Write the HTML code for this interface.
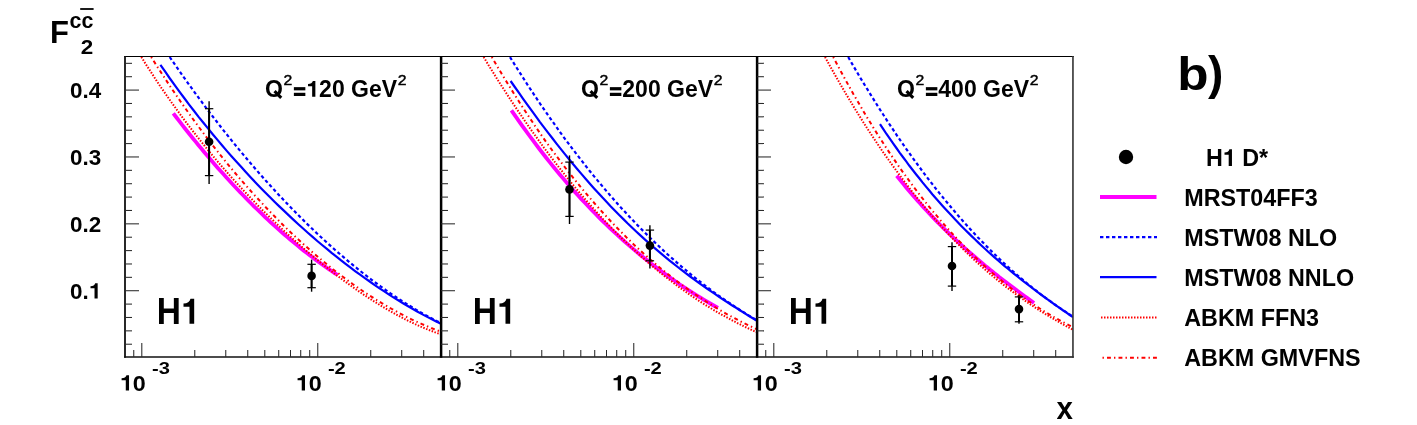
<!DOCTYPE html>
<html><head><meta charset="utf-8"><title>F2cc</title>
<style>html,body{margin:0;padding:0;background:#fff;}svg{display:block;}text{font-kerning:none;white-space:pre;}body{font-family:"Liberation Sans",sans-serif;}</style></head>
<body>
<svg width="1417" height="425" viewBox="0 0 1417 425" font-family="'Liberation Sans', sans-serif" font-weight="bold" fill="#000">
<rect width="1417" height="425" fill="#fff"/>
<defs>
<clipPath id="cp0"><rect x="125.0" y="56.5" width="316.0" height="300.5"/></clipPath>
<clipPath id="cp1"><rect x="441.0" y="56.5" width="316.0" height="300.5"/></clipPath>
<clipPath id="cp2"><rect x="757.0" y="56.5" width="316.0" height="300.5"/></clipPath>
</defs>
<g clip-path="url(#cp0)" fill="none">
<path d="M173.3 113.3 L176.1 117.0 L178.9 120.6 L181.6 124.2 L184.4 127.7 L187.2 131.2 L190.0 134.7 L192.8 138.2 L195.6 141.6 L198.3 145.0 L201.1 148.3 L203.9 151.7 L206.7 155.0 L209.5 158.2 L212.3 161.5 L215.0 164.7 L217.8 167.9 L220.6 171.0 L223.4 174.1 L226.2 177.2 L229.0 180.2 L231.7 183.3 L234.5 186.2 L237.3 189.2 L240.1 192.1 L242.9 195.0 L245.7 197.9 L248.4 200.7 L251.2 203.5 L254.0 206.3 L256.8 209.0 L259.6 211.7 L262.4 214.4 L265.1 217.1 L267.9 219.7 L270.7 222.3 L273.5 224.8 L276.3 227.3 L279.1 229.8 L281.8 232.3 L284.6 234.7 L287.4 237.1 L290.2 239.5 L293.0 241.8 L295.8 244.1 L298.5 246.4 L301.3 248.7 L304.1 250.9 L306.9 253.0 L309.7 255.2 L312.5 257.3 L315.2 259.4 L318.0 261.5 L320.8 263.5 L323.6 265.5 L326.4 267.5 L329.2 269.4 L331.9 271.3 L334.7 273.2 L337.5 275.0" stroke="#ff00ff" stroke-width="3.8"/>
<path d="M169.7 57.0 L174.3 63.7 L178.9 70.3 L183.5 76.8 L188.1 83.3 L192.7 89.7 L197.3 96.0 L201.9 102.2 L206.5 108.3 L211.1 114.4 L215.7 120.3 L220.3 126.2 L224.9 132.1 L229.5 137.8 L234.1 143.5 L238.7 149.1 L243.3 154.6 L247.9 160.1 L252.5 165.5 L257.1 170.8 L261.7 176.0 L266.3 181.2 L270.9 186.2 L275.5 191.3 L280.1 196.2 L284.7 201.1 L289.3 205.9 L293.9 210.6 L298.5 215.3 L303.1 219.9 L307.6 224.4 L312.2 228.8 L316.8 233.2 L321.4 237.5 L326.0 241.7 L330.6 245.9 L335.2 250.0 L339.8 254.0 L344.4 257.9 L349.0 261.8 L353.6 265.6 L358.2 269.3 L362.8 273.0 L367.4 276.6 L372.0 280.1 L376.6 283.5 L381.2 286.8 L385.8 290.1 L390.4 293.3 L395.0 296.4 L399.6 299.5 L404.2 302.4 L408.8 305.3 L413.4 308.1 L418.0 310.8 L422.6 313.5 L427.2 316.0 L431.8 318.5 L436.4 320.9 L441.0 323.2" stroke="#0000ff" stroke-width="2.2" stroke-dasharray="3.4 2.6"/>
<path d="M160.4 64.9 L165.2 71.7 L169.9 78.5 L174.7 85.1 L179.4 91.6 L184.2 98.0 L188.9 104.3 L193.7 110.5 L198.4 116.6 L203.2 122.5 L208.0 128.4 L212.7 134.2 L217.5 139.9 L222.2 145.5 L227.0 151.1 L231.7 156.5 L236.5 161.8 L241.3 167.1 L246.0 172.3 L250.8 177.4 L255.5 182.4 L260.3 187.4 L265.0 192.2 L269.8 197.0 L274.5 201.7 L279.3 206.4 L284.1 210.9 L288.8 215.4 L293.6 219.9 L298.3 224.2 L303.1 228.5 L307.8 232.7 L312.6 236.9 L317.3 241.0 L322.1 245.0 L326.9 248.9 L331.6 252.8 L336.4 256.6 L341.1 260.4 L345.9 264.1 L350.6 267.7 L355.4 271.3 L360.1 274.7 L364.9 278.2 L369.7 281.5 L374.4 284.8 L379.2 288.1 L383.9 291.2 L388.7 294.3 L393.4 297.4 L398.2 300.3 L403.0 303.2 L407.7 306.0 L412.5 308.8 L417.2 311.5 L422.0 314.1 L426.7 316.6 L431.5 319.1 L436.2 321.5 L441.0 323.8" stroke="#0000ff" stroke-width="2.2"/>
<path d="M141.3 57.0 L146.4 65.1 L151.5 72.9 L156.5 80.6 L161.6 88.2 L166.7 95.5 L171.8 102.8 L176.9 109.8 L181.9 116.7 L187.0 123.5 L192.1 130.1 L197.2 136.6 L202.3 143.0 L207.3 149.2 L212.4 155.4 L217.5 161.4 L222.6 167.3 L227.7 173.1 L232.7 178.8 L237.8 184.3 L242.9 189.8 L248.0 195.2 L253.1 200.5 L258.1 205.7 L263.2 210.8 L268.3 215.8 L273.4 220.7 L278.5 225.6 L283.5 230.3 L288.6 235.0 L293.7 239.6 L298.8 244.1 L303.8 248.6 L308.9 252.9 L314.0 257.2 L319.1 261.4 L324.2 265.5 L329.2 269.5 L334.3 273.5 L339.4 277.3 L344.5 281.1 L349.6 284.8 L354.6 288.4 L359.7 291.9 L364.8 295.4 L369.9 298.7 L375.0 302.0 L380.0 305.1 L385.1 308.2 L390.2 311.1 L395.3 314.0 L400.4 316.7 L405.4 319.4 L410.5 321.9 L415.6 324.3 L420.7 326.6 L425.8 328.7 L430.8 330.7 L435.9 332.6 L441.0 334.4" stroke="#ff0000" stroke-width="2" stroke-dasharray="1.5 1.5"/>
<path d="M151.2 57.0 L156.1 64.8 L161.0 72.4 L165.9 79.9 L170.8 87.3 L175.8 94.6 L180.7 101.7 L185.6 108.7 L190.5 115.6 L195.4 122.4 L200.3 129.0 L205.2 135.6 L210.1 142.0 L215.1 148.3 L220.0 154.5 L224.9 160.6 L229.8 166.6 L234.7 172.5 L239.6 178.3 L244.5 183.9 L249.4 189.5 L254.3 195.0 L259.3 200.3 L264.2 205.6 L269.1 210.8 L274.0 215.8 L278.9 220.8 L283.8 225.7 L288.7 230.5 L293.6 235.1 L298.6 239.7 L303.5 244.2 L308.4 248.6 L313.3 252.9 L318.2 257.1 L323.1 261.2 L328.0 265.2 L332.9 269.2 L337.9 273.0 L342.8 276.7 L347.7 280.4 L352.6 284.0 L357.5 287.4 L362.4 290.8 L367.3 294.1 L372.2 297.2 L377.1 300.3 L382.1 303.3 L387.0 306.2 L391.9 309.0 L396.8 311.7 L401.7 314.3 L406.6 316.9 L411.5 319.3 L416.4 321.6 L421.4 323.8 L426.3 325.9 L431.2 328.0 L436.1 329.9 L441.0 331.7" stroke="#ff0000" stroke-width="2" stroke-dasharray="1.4 3.1 3.9 3.1"/>
</g>
<g clip-path="url(#cp1)" fill="none">
<path d="M511.4 110.3 L514.9 115.4 L518.4 120.4 L521.9 125.3 L525.4 130.2 L528.9 135.0 L532.4 139.7 L535.9 144.4 L539.4 149.0 L542.9 153.5 L546.4 158.0 L549.9 162.4 L553.4 166.7 L556.9 171.0 L560.4 175.2 L563.9 179.3 L567.4 183.4 L570.9 187.4 L574.4 191.4 L577.9 195.2 L581.4 199.1 L584.9 202.8 L588.4 206.5 L591.9 210.2 L595.4 213.8 L598.9 217.3 L602.4 220.8 L605.9 224.2 L609.4 227.6 L612.9 230.9 L616.5 234.1 L620.0 237.3 L623.5 240.5 L627.0 243.6 L630.5 246.6 L634.0 249.6 L637.5 252.6 L641.0 255.5 L644.5 258.3 L648.0 261.1 L651.5 263.9 L655.0 266.6 L658.5 269.2 L662.0 271.8 L665.5 274.4 L669.0 276.9 L672.5 279.4 L676.0 281.8 L679.5 284.2 L683.0 286.6 L686.5 288.9 L690.0 291.2 L693.5 293.4 L697.0 295.6 L700.5 297.7 L704.0 299.8 L707.5 301.9 L711.0 304.0 L714.5 306.0 L718.0 307.9" stroke="#ff00ff" stroke-width="3.8"/>
<path d="M510.0 57.1 L514.2 63.8 L518.4 70.5 L522.6 77.0 L526.7 83.5 L530.9 89.9 L535.1 96.2 L539.3 102.5 L543.5 108.6 L547.7 114.7 L551.9 120.6 L556.1 126.5 L560.2 132.3 L564.4 138.1 L568.6 143.7 L572.8 149.3 L577.0 154.7 L581.2 160.1 L585.4 165.5 L589.5 170.7 L593.7 175.9 L597.9 180.9 L602.1 185.9 L606.3 190.9 L610.5 195.7 L614.7 200.5 L618.8 205.2 L623.0 209.8 L627.2 214.3 L631.4 218.8 L635.6 223.2 L639.8 227.5 L644.0 231.7 L648.2 235.9 L652.3 240.0 L656.5 244.0 L660.7 248.0 L664.9 251.9 L669.1 255.7 L673.3 259.4 L677.5 263.1 L681.6 266.7 L685.8 270.2 L690.0 273.7 L694.2 277.1 L698.4 280.4 L702.6 283.7 L706.8 286.9 L710.9 290.0 L715.1 293.1 L719.3 296.1 L723.5 299.0 L727.7 301.9 L731.9 304.7 L736.1 307.5 L740.3 310.2 L744.4 312.8 L748.6 315.4 L752.8 317.9 L757.0 320.3" stroke="#0000ff" stroke-width="2.2" stroke-dasharray="3.4 2.6"/>
<path d="M510.6 81.0 L514.8 87.0 L519.0 92.9 L523.1 98.8 L527.3 104.7 L531.5 110.4 L535.7 116.1 L539.8 121.8 L544.0 127.3 L548.2 132.8 L552.4 138.2 L556.5 143.6 L560.7 148.9 L564.9 154.1 L569.1 159.2 L573.2 164.3 L577.4 169.2 L581.6 174.1 L585.8 179.0 L589.9 183.7 L594.1 188.4 L598.3 193.0 L602.5 197.6 L606.7 202.0 L610.8 206.4 L615.0 210.7 L619.2 215.0 L623.4 219.1 L627.5 223.2 L631.7 227.2 L635.9 231.2 L640.1 235.1 L644.2 238.9 L648.4 242.6 L652.6 246.3 L656.8 249.9 L660.9 253.4 L665.1 256.9 L669.3 260.3 L673.5 263.7 L677.7 267.0 L681.8 270.2 L686.0 273.4 L690.2 276.5 L694.4 279.6 L698.5 282.6 L702.7 285.6 L706.9 288.5 L711.1 291.4 L715.2 294.2 L719.4 297.0 L723.6 299.8 L727.8 302.5 L731.9 305.2 L736.1 307.8 L740.3 310.5 L744.5 313.1 L748.6 315.7 L752.8 318.2 L757.0 320.8" stroke="#0000ff" stroke-width="2.2"/>
<path d="M483.6 57.0 L488.2 64.6 L492.9 72.1 L497.5 79.5 L502.1 86.8 L506.8 93.9 L511.4 101.0 L516.0 107.9 L520.7 114.8 L525.3 121.5 L529.9 128.2 L534.6 134.7 L539.2 141.1 L543.8 147.5 L548.5 153.7 L553.1 159.8 L557.7 165.8 L562.4 171.7 L567.0 177.5 L571.6 183.2 L576.3 188.8 L580.9 194.3 L585.5 199.7 L590.2 204.9 L594.8 210.1 L599.4 215.2 L604.1 220.2 L608.7 225.0 L613.3 229.8 L618.0 234.5 L622.6 239.1 L627.3 243.5 L631.9 247.9 L636.5 252.2 L641.2 256.4 L645.8 260.5 L650.4 264.5 L655.1 268.4 L659.7 272.2 L664.3 275.9 L669.0 279.5 L673.6 283.0 L678.2 286.5 L682.9 289.8 L687.5 293.1 L692.1 296.3 L696.8 299.4 L701.4 302.4 L706.0 305.3 L710.7 308.2 L715.3 310.9 L719.9 313.6 L724.6 316.2 L729.2 318.7 L733.8 321.2 L738.5 323.6 L743.1 325.9 L747.7 328.1 L752.4 330.3 L757.0 332.4" stroke="#ff0000" stroke-width="2" stroke-dasharray="1.5 1.5"/>
<path d="M491.8 57.0 L496.3 64.7 L500.8 72.3 L505.3 79.7 L509.8 87.0 L514.3 94.2 L518.8 101.3 L523.3 108.3 L527.8 115.1 L532.3 121.8 L536.7 128.4 L541.2 134.9 L545.7 141.3 L550.2 147.6 L554.7 153.7 L559.2 159.7 L563.7 165.7 L568.2 171.5 L572.7 177.2 L577.2 182.8 L581.7 188.3 L586.2 193.7 L590.7 198.9 L595.2 204.1 L599.7 209.2 L604.2 214.1 L608.7 219.0 L613.2 223.8 L617.7 228.5 L622.2 233.0 L626.6 237.5 L631.1 241.9 L635.6 246.2 L640.1 250.3 L644.6 254.4 L649.1 258.4 L653.6 262.4 L658.1 266.2 L662.6 269.9 L667.1 273.5 L671.6 277.1 L676.1 280.6 L680.6 283.9 L685.1 287.2 L689.6 290.5 L694.1 293.6 L698.6 296.6 L703.1 299.6 L707.6 302.5 L712.1 305.3 L716.5 308.0 L721.0 310.7 L725.5 313.3 L730.0 315.8 L734.5 318.2 L739.0 320.6 L743.5 322.9 L748.0 325.1 L752.5 327.2 L757.0 329.3" stroke="#ff0000" stroke-width="2" stroke-dasharray="1.4 3.1 3.9 3.1"/>
</g>
<g clip-path="url(#cp2)" fill="none">
<path d="M896.7 175.7 L899.0 178.6 L901.4 181.5 L903.7 184.3 L906.0 187.2 L908.3 189.9 L910.7 192.7 L913.0 195.4 L915.3 198.1 L917.6 200.7 L920.0 203.3 L922.3 205.9 L924.6 208.5 L927.0 211.0 L929.3 213.5 L931.6 216.0 L933.9 218.4 L936.3 220.8 L938.6 223.2 L940.9 225.5 L943.2 227.8 L945.6 230.1 L947.9 232.4 L950.2 234.7 L952.6 236.9 L954.9 239.1 L957.2 241.2 L959.5 243.4 L961.9 245.5 L964.2 247.6 L966.5 249.7 L968.8 251.8 L971.2 253.8 L973.5 255.8 L975.8 257.8 L978.1 259.8 L980.5 261.8 L982.8 263.7 L985.1 265.7 L987.5 267.6 L989.8 269.5 L992.1 271.3 L994.4 273.2 L996.8 275.0 L999.1 276.9 L1001.4 278.7 L1003.7 280.5 L1006.1 282.3 L1008.4 284.1 L1010.7 285.8 L1013.1 287.6 L1015.4 289.3 L1017.7 291.1 L1020.0 292.8 L1022.4 294.5 L1024.7 296.2 L1027.0 297.9 L1029.3 299.6 L1031.7 301.3 L1034.0 303.0" stroke="#ff00ff" stroke-width="3.8"/>
<path d="M848.2 57.0 L852.0 63.6 L855.8 70.1 L859.6 76.6 L863.4 82.9 L867.3 89.2 L871.1 95.4 L874.9 101.5 L878.7 107.6 L882.5 113.5 L886.3 119.4 L890.1 125.2 L893.9 130.9 L897.7 136.6 L901.5 142.1 L905.4 147.6 L909.2 153.0 L913.0 158.3 L916.8 163.5 L920.6 168.7 L924.4 173.8 L928.2 178.8 L932.0 183.7 L935.8 188.6 L939.6 193.4 L943.5 198.1 L947.3 202.7 L951.1 207.3 L954.9 211.8 L958.7 216.2 L962.5 220.5 L966.3 224.8 L970.1 229.0 L973.9 233.1 L977.7 237.2 L981.6 241.1 L985.4 245.0 L989.2 248.9 L993.0 252.7 L996.8 256.4 L1000.6 260.0 L1004.4 263.6 L1008.2 267.1 L1012.0 270.5 L1015.8 273.9 L1019.7 277.2 L1023.5 280.4 L1027.3 283.6 L1031.1 286.7 L1034.9 289.7 L1038.7 292.7 L1042.5 295.6 L1046.3 298.4 L1050.1 301.2 L1053.9 303.9 L1057.8 306.6 L1061.6 309.2 L1065.4 311.7 L1069.2 314.2 L1073.0 316.6" stroke="#0000ff" stroke-width="2.2" stroke-dasharray="3.4 2.6"/>
<path d="M880.0 124.2 L883.3 129.1 L886.5 134.0 L889.8 138.7 L893.1 143.4 L896.4 148.0 L899.6 152.6 L902.9 157.0 L906.2 161.4 L909.4 165.8 L912.7 170.0 L916.0 174.2 L919.3 178.3 L922.5 182.4 L925.8 186.4 L929.1 190.3 L932.3 194.2 L935.6 198.0 L938.9 201.7 L942.2 205.4 L945.4 209.0 L948.7 212.6 L952.0 216.1 L955.2 219.6 L958.5 223.0 L961.8 226.4 L965.1 229.7 L968.3 232.9 L971.6 236.1 L974.9 239.3 L978.1 242.4 L981.4 245.5 L984.7 248.5 L987.9 251.5 L991.2 254.4 L994.5 257.3 L997.8 260.2 L1001.0 263.0 L1004.3 265.8 L1007.6 268.5 L1010.8 271.2 L1014.1 273.9 L1017.4 276.5 L1020.7 279.1 L1023.9 281.7 L1027.2 284.2 L1030.5 286.7 L1033.7 289.2 L1037.0 291.7 L1040.3 294.1 L1043.6 296.5 L1046.8 298.9 L1050.1 301.2 L1053.4 303.6 L1056.6 305.9 L1059.9 308.2 L1063.2 310.5 L1066.5 312.7 L1069.7 315.0 L1073.0 317.2" stroke="#0000ff" stroke-width="2.2"/>
<path d="M825.0 57.0 L829.2 64.6 L833.4 72.1 L837.6 79.5 L841.8 86.8 L846.0 93.9 L850.2 100.9 L854.4 107.9 L858.6 114.7 L862.8 121.4 L867.0 128.0 L871.2 134.4 L875.4 140.8 L879.6 147.0 L883.8 153.2 L888.1 159.2 L892.3 165.1 L896.5 170.9 L900.7 176.6 L904.9 182.2 L909.1 187.7 L913.3 193.1 L917.5 198.3 L921.7 203.5 L925.9 208.6 L930.1 213.5 L934.3 218.4 L938.5 223.2 L942.7 227.8 L946.9 232.4 L951.1 236.9 L955.3 241.2 L959.5 245.5 L963.7 249.7 L967.9 253.8 L972.1 257.8 L976.3 261.7 L980.5 265.5 L984.7 269.2 L988.9 272.9 L993.1 276.4 L997.3 279.9 L1001.5 283.3 L1005.7 286.6 L1009.9 289.8 L1014.2 293.0 L1018.4 296.0 L1022.6 299.0 L1026.8 302.0 L1031.0 304.8 L1035.2 307.6 L1039.4 310.3 L1043.6 312.9 L1047.8 315.5 L1052.0 318.0 L1056.2 320.5 L1060.4 322.9 L1064.6 325.2 L1068.8 327.5 L1073.0 329.7" stroke="#ff0000" stroke-width="2" stroke-dasharray="1.5 1.5"/>
<path d="M833.2 57.0 L837.3 64.7 L841.3 72.3 L845.4 79.7 L849.5 87.1 L853.5 94.3 L857.6 101.3 L861.7 108.3 L865.7 115.1 L869.8 121.8 L873.8 128.4 L877.9 134.9 L882.0 141.2 L886.0 147.5 L890.1 153.6 L894.2 159.6 L898.2 165.5 L902.3 171.3 L906.4 176.9 L910.4 182.5 L914.5 188.0 L918.6 193.3 L922.6 198.5 L926.7 203.7 L930.7 208.7 L934.8 213.6 L938.9 218.4 L942.9 223.2 L947.0 227.8 L951.1 232.3 L955.1 236.7 L959.2 241.1 L963.3 245.3 L967.3 249.5 L971.4 253.5 L975.5 257.5 L979.5 261.3 L983.6 265.1 L987.6 268.8 L991.7 272.4 L995.8 275.9 L999.8 279.3 L1003.9 282.7 L1008.0 285.9 L1012.0 289.1 L1016.1 292.2 L1020.2 295.2 L1024.2 298.1 L1028.3 301.0 L1032.4 303.7 L1036.4 306.4 L1040.5 309.0 L1044.5 311.6 L1048.6 314.0 L1052.7 316.4 L1056.7 318.7 L1060.8 320.9 L1064.9 323.1 L1068.9 325.2 L1073.0 327.2" stroke="#ff0000" stroke-width="2" stroke-dasharray="1.4 3.1 3.9 3.1"/>
</g>
<g stroke="#000" fill="#000">
<line x1="209.1" y1="101.2" x2="209.1" y2="184.0" stroke-width="1.4"/>
<line x1="209.1" y1="108.7" x2="209.1" y2="175.6" stroke-width="2"/>
<line x1="204.9" y1="108.7" x2="213.29999999999998" y2="108.7" stroke-width="1.2"/>
<line x1="204.9" y1="175.6" x2="213.29999999999998" y2="175.6" stroke-width="1.2"/>
<circle cx="209.1" cy="141.7" r="4.3" stroke="none"/>
<line x1="311.6" y1="259.6" x2="311.6" y2="291.7" stroke-width="1.4"/>
<line x1="311.6" y1="264.3" x2="311.6" y2="287.7" stroke-width="2"/>
<line x1="307.40000000000003" y1="264.3" x2="315.8" y2="264.3" stroke-width="1.2"/>
<line x1="307.40000000000003" y1="287.7" x2="315.8" y2="287.7" stroke-width="1.2"/>
<circle cx="311.6" cy="275.9" r="4.3" stroke="none"/>
<line x1="569.5" y1="155.4" x2="569.5" y2="224.0" stroke-width="1.4"/>
<line x1="569.5" y1="162.1" x2="569.5" y2="216.4" stroke-width="2"/>
<line x1="565.3" y1="162.1" x2="573.7" y2="162.1" stroke-width="1.2"/>
<line x1="565.3" y1="216.4" x2="573.7" y2="216.4" stroke-width="1.2"/>
<circle cx="569.5" cy="189.4" r="4.3" stroke="none"/>
<line x1="649.9" y1="225.3" x2="649.9" y2="268.4" stroke-width="1.4"/>
<line x1="649.9" y1="230.1" x2="649.9" y2="260.8" stroke-width="2"/>
<line x1="645.6999999999999" y1="230.1" x2="654.1" y2="230.1" stroke-width="1.2"/>
<line x1="645.6999999999999" y1="260.8" x2="654.1" y2="260.8" stroke-width="1.2"/>
<circle cx="649.9" cy="245.6" r="4.3" stroke="none"/>
<line x1="952.0" y1="242.2" x2="952.0" y2="291.0" stroke-width="1.4"/>
<line x1="952.0" y1="246.6" x2="952.0" y2="286.1" stroke-width="2"/>
<line x1="947.8" y1="246.6" x2="956.2" y2="246.6" stroke-width="1.2"/>
<line x1="947.8" y1="286.1" x2="956.2" y2="286.1" stroke-width="1.2"/>
<circle cx="952.0" cy="266.0" r="4.3" stroke="none"/>
<line x1="1019.0" y1="295.0" x2="1019.0" y2="323.8" stroke-width="1.4"/>
<line x1="1019.0" y1="296.9" x2="1019.0" y2="321.8" stroke-width="2"/>
<line x1="1014.8" y1="296.9" x2="1023.2" y2="296.9" stroke-width="1.2"/>
<line x1="1014.8" y1="321.8" x2="1023.2" y2="321.8" stroke-width="1.2"/>
<circle cx="1019.0" cy="309.1" r="4.3" stroke="none"/>
</g>
<g stroke="#111" fill="none">
<line x1="124.1" y1="56.5" x2="1073.8" y2="56.5" stroke-width="1.2" stroke="#000"/>
<line x1="124.1" y1="357.05" x2="1073.8" y2="357.05" stroke-width="1.5"/>
<line x1="125" y1="56" x2="125" y2="357.8" stroke-width="1.8"/>
<line x1="441.1" y1="56" x2="441.1" y2="357.8" stroke-width="2.5" stroke="#000"/>
<line x1="757.1" y1="56" x2="757.1" y2="357.8" stroke-width="2.5" stroke="#000"/>
<line x1="1072.95" y1="56" x2="1072.95" y2="357.8" stroke-width="1.6" stroke="#333"/>
<line x1="125.0" y1="344.22" x2="132.0" y2="344.22" stroke-width="1.05" stroke="#2a2a2a"/>
<line x1="125.0" y1="330.85" x2="132.0" y2="330.85" stroke-width="1.05" stroke="#2a2a2a"/>
<line x1="125.0" y1="317.47" x2="132.0" y2="317.47" stroke-width="1.05" stroke="#2a2a2a"/>
<line x1="125.0" y1="304.10" x2="132.0" y2="304.10" stroke-width="1.05" stroke="#2a2a2a"/>
<line x1="125.0" y1="290.72" x2="139.0" y2="290.72" stroke-width="1.05" stroke="#2a2a2a"/>
<line x1="125.0" y1="277.34" x2="132.0" y2="277.34" stroke-width="1.05" stroke="#2a2a2a"/>
<line x1="125.0" y1="263.97" x2="132.0" y2="263.97" stroke-width="1.05" stroke="#2a2a2a"/>
<line x1="125.0" y1="250.59" x2="132.0" y2="250.59" stroke-width="1.05" stroke="#2a2a2a"/>
<line x1="125.0" y1="237.22" x2="132.0" y2="237.22" stroke-width="1.05" stroke="#2a2a2a"/>
<line x1="125.0" y1="223.84" x2="139.0" y2="223.84" stroke-width="1.05" stroke="#2a2a2a"/>
<line x1="125.0" y1="210.46" x2="132.0" y2="210.46" stroke-width="1.05" stroke="#2a2a2a"/>
<line x1="125.0" y1="197.09" x2="132.0" y2="197.09" stroke-width="1.05" stroke="#2a2a2a"/>
<line x1="125.0" y1="183.71" x2="132.0" y2="183.71" stroke-width="1.05" stroke="#2a2a2a"/>
<line x1="125.0" y1="170.34" x2="132.0" y2="170.34" stroke-width="1.05" stroke="#2a2a2a"/>
<line x1="125.0" y1="156.96" x2="139.0" y2="156.96" stroke-width="1.05" stroke="#2a2a2a"/>
<line x1="125.0" y1="143.58" x2="132.0" y2="143.58" stroke-width="1.05" stroke="#2a2a2a"/>
<line x1="125.0" y1="130.21" x2="132.0" y2="130.21" stroke-width="1.05" stroke="#2a2a2a"/>
<line x1="125.0" y1="116.83" x2="132.0" y2="116.83" stroke-width="1.05" stroke="#2a2a2a"/>
<line x1="125.0" y1="103.46" x2="132.0" y2="103.46" stroke-width="1.05" stroke="#2a2a2a"/>
<line x1="125.0" y1="90.08" x2="139.0" y2="90.08" stroke-width="1.05" stroke="#2a2a2a"/>
<line x1="125.0" y1="76.70" x2="132.0" y2="76.70" stroke-width="1.05" stroke="#2a2a2a"/>
<line x1="125.0" y1="63.33" x2="132.0" y2="63.33" stroke-width="1.05" stroke="#2a2a2a"/>
<line x1="133.75" y1="357" x2="133.75" y2="350" stroke-width="1.05" stroke="#2a2a2a"/>
<line x1="141.80" y1="357" x2="141.80" y2="343" stroke-width="1.05" stroke="#2a2a2a"/>
<line x1="194.77" y1="357" x2="194.77" y2="350" stroke-width="1.05" stroke="#2a2a2a"/>
<line x1="225.76" y1="357" x2="225.76" y2="350" stroke-width="1.05" stroke="#2a2a2a"/>
<line x1="247.74" y1="357" x2="247.74" y2="350" stroke-width="1.05" stroke="#2a2a2a"/>
<line x1="264.79" y1="357" x2="264.79" y2="350" stroke-width="1.05" stroke="#2a2a2a"/>
<line x1="278.72" y1="357" x2="278.72" y2="350" stroke-width="1.05" stroke="#2a2a2a"/>
<line x1="290.50" y1="357" x2="290.50" y2="350" stroke-width="1.05" stroke="#2a2a2a"/>
<line x1="300.71" y1="357" x2="300.71" y2="350" stroke-width="1.05" stroke="#2a2a2a"/>
<line x1="309.71" y1="357" x2="309.71" y2="350" stroke-width="1.05" stroke="#2a2a2a"/>
<line x1="317.76" y1="357" x2="317.76" y2="343" stroke-width="1.05" stroke="#2a2a2a"/>
<line x1="370.73" y1="357" x2="370.73" y2="350" stroke-width="1.05" stroke="#2a2a2a"/>
<line x1="401.71" y1="357" x2="401.71" y2="350" stroke-width="1.05" stroke="#2a2a2a"/>
<line x1="423.70" y1="357" x2="423.70" y2="350" stroke-width="1.05" stroke="#2a2a2a"/>
<line x1="441.0" y1="344.22" x2="448.0" y2="344.22" stroke-width="1.05" stroke="#2a2a2a"/>
<line x1="441.0" y1="330.85" x2="448.0" y2="330.85" stroke-width="1.05" stroke="#2a2a2a"/>
<line x1="441.0" y1="317.47" x2="448.0" y2="317.47" stroke-width="1.05" stroke="#2a2a2a"/>
<line x1="441.0" y1="304.10" x2="448.0" y2="304.10" stroke-width="1.05" stroke="#2a2a2a"/>
<line x1="441.0" y1="290.72" x2="455.0" y2="290.72" stroke-width="1.05" stroke="#2a2a2a"/>
<line x1="441.0" y1="277.34" x2="448.0" y2="277.34" stroke-width="1.05" stroke="#2a2a2a"/>
<line x1="441.0" y1="263.97" x2="448.0" y2="263.97" stroke-width="1.05" stroke="#2a2a2a"/>
<line x1="441.0" y1="250.59" x2="448.0" y2="250.59" stroke-width="1.05" stroke="#2a2a2a"/>
<line x1="441.0" y1="237.22" x2="448.0" y2="237.22" stroke-width="1.05" stroke="#2a2a2a"/>
<line x1="441.0" y1="223.84" x2="455.0" y2="223.84" stroke-width="1.05" stroke="#2a2a2a"/>
<line x1="441.0" y1="210.46" x2="448.0" y2="210.46" stroke-width="1.05" stroke="#2a2a2a"/>
<line x1="441.0" y1="197.09" x2="448.0" y2="197.09" stroke-width="1.05" stroke="#2a2a2a"/>
<line x1="441.0" y1="183.71" x2="448.0" y2="183.71" stroke-width="1.05" stroke="#2a2a2a"/>
<line x1="441.0" y1="170.34" x2="448.0" y2="170.34" stroke-width="1.05" stroke="#2a2a2a"/>
<line x1="441.0" y1="156.96" x2="455.0" y2="156.96" stroke-width="1.05" stroke="#2a2a2a"/>
<line x1="441.0" y1="143.58" x2="448.0" y2="143.58" stroke-width="1.05" stroke="#2a2a2a"/>
<line x1="441.0" y1="130.21" x2="448.0" y2="130.21" stroke-width="1.05" stroke="#2a2a2a"/>
<line x1="441.0" y1="116.83" x2="448.0" y2="116.83" stroke-width="1.05" stroke="#2a2a2a"/>
<line x1="441.0" y1="103.46" x2="448.0" y2="103.46" stroke-width="1.05" stroke="#2a2a2a"/>
<line x1="441.0" y1="90.08" x2="455.0" y2="90.08" stroke-width="1.05" stroke="#2a2a2a"/>
<line x1="441.0" y1="76.70" x2="448.0" y2="76.70" stroke-width="1.05" stroke="#2a2a2a"/>
<line x1="441.0" y1="63.33" x2="448.0" y2="63.33" stroke-width="1.05" stroke="#2a2a2a"/>
<line x1="449.75" y1="357" x2="449.75" y2="350" stroke-width="1.05" stroke="#2a2a2a"/>
<line x1="457.80" y1="357" x2="457.80" y2="343" stroke-width="1.05" stroke="#2a2a2a"/>
<line x1="510.77" y1="357" x2="510.77" y2="350" stroke-width="1.05" stroke="#2a2a2a"/>
<line x1="541.76" y1="357" x2="541.76" y2="350" stroke-width="1.05" stroke="#2a2a2a"/>
<line x1="563.74" y1="357" x2="563.74" y2="350" stroke-width="1.05" stroke="#2a2a2a"/>
<line x1="580.79" y1="357" x2="580.79" y2="350" stroke-width="1.05" stroke="#2a2a2a"/>
<line x1="594.72" y1="357" x2="594.72" y2="350" stroke-width="1.05" stroke="#2a2a2a"/>
<line x1="606.50" y1="357" x2="606.50" y2="350" stroke-width="1.05" stroke="#2a2a2a"/>
<line x1="616.71" y1="357" x2="616.71" y2="350" stroke-width="1.05" stroke="#2a2a2a"/>
<line x1="625.71" y1="357" x2="625.71" y2="350" stroke-width="1.05" stroke="#2a2a2a"/>
<line x1="633.76" y1="357" x2="633.76" y2="343" stroke-width="1.05" stroke="#2a2a2a"/>
<line x1="686.73" y1="357" x2="686.73" y2="350" stroke-width="1.05" stroke="#2a2a2a"/>
<line x1="717.71" y1="357" x2="717.71" y2="350" stroke-width="1.05" stroke="#2a2a2a"/>
<line x1="739.70" y1="357" x2="739.70" y2="350" stroke-width="1.05" stroke="#2a2a2a"/>
<line x1="757.0" y1="344.22" x2="764.0" y2="344.22" stroke-width="1.05" stroke="#2a2a2a"/>
<line x1="757.0" y1="330.85" x2="764.0" y2="330.85" stroke-width="1.05" stroke="#2a2a2a"/>
<line x1="757.0" y1="317.47" x2="764.0" y2="317.47" stroke-width="1.05" stroke="#2a2a2a"/>
<line x1="757.0" y1="304.10" x2="764.0" y2="304.10" stroke-width="1.05" stroke="#2a2a2a"/>
<line x1="757.0" y1="290.72" x2="771.0" y2="290.72" stroke-width="1.05" stroke="#2a2a2a"/>
<line x1="757.0" y1="277.34" x2="764.0" y2="277.34" stroke-width="1.05" stroke="#2a2a2a"/>
<line x1="757.0" y1="263.97" x2="764.0" y2="263.97" stroke-width="1.05" stroke="#2a2a2a"/>
<line x1="757.0" y1="250.59" x2="764.0" y2="250.59" stroke-width="1.05" stroke="#2a2a2a"/>
<line x1="757.0" y1="237.22" x2="764.0" y2="237.22" stroke-width="1.05" stroke="#2a2a2a"/>
<line x1="757.0" y1="223.84" x2="771.0" y2="223.84" stroke-width="1.05" stroke="#2a2a2a"/>
<line x1="757.0" y1="210.46" x2="764.0" y2="210.46" stroke-width="1.05" stroke="#2a2a2a"/>
<line x1="757.0" y1="197.09" x2="764.0" y2="197.09" stroke-width="1.05" stroke="#2a2a2a"/>
<line x1="757.0" y1="183.71" x2="764.0" y2="183.71" stroke-width="1.05" stroke="#2a2a2a"/>
<line x1="757.0" y1="170.34" x2="764.0" y2="170.34" stroke-width="1.05" stroke="#2a2a2a"/>
<line x1="757.0" y1="156.96" x2="771.0" y2="156.96" stroke-width="1.05" stroke="#2a2a2a"/>
<line x1="757.0" y1="143.58" x2="764.0" y2="143.58" stroke-width="1.05" stroke="#2a2a2a"/>
<line x1="757.0" y1="130.21" x2="764.0" y2="130.21" stroke-width="1.05" stroke="#2a2a2a"/>
<line x1="757.0" y1="116.83" x2="764.0" y2="116.83" stroke-width="1.05" stroke="#2a2a2a"/>
<line x1="757.0" y1="103.46" x2="764.0" y2="103.46" stroke-width="1.05" stroke="#2a2a2a"/>
<line x1="757.0" y1="90.08" x2="771.0" y2="90.08" stroke-width="1.05" stroke="#2a2a2a"/>
<line x1="757.0" y1="76.70" x2="764.0" y2="76.70" stroke-width="1.05" stroke="#2a2a2a"/>
<line x1="757.0" y1="63.33" x2="764.0" y2="63.33" stroke-width="1.05" stroke="#2a2a2a"/>
<line x1="765.75" y1="357" x2="765.75" y2="350" stroke-width="1.05" stroke="#2a2a2a"/>
<line x1="773.80" y1="357" x2="773.80" y2="343" stroke-width="1.05" stroke="#2a2a2a"/>
<line x1="826.77" y1="357" x2="826.77" y2="350" stroke-width="1.05" stroke="#2a2a2a"/>
<line x1="857.76" y1="357" x2="857.76" y2="350" stroke-width="1.05" stroke="#2a2a2a"/>
<line x1="879.74" y1="357" x2="879.74" y2="350" stroke-width="1.05" stroke="#2a2a2a"/>
<line x1="896.79" y1="357" x2="896.79" y2="350" stroke-width="1.05" stroke="#2a2a2a"/>
<line x1="910.72" y1="357" x2="910.72" y2="350" stroke-width="1.05" stroke="#2a2a2a"/>
<line x1="922.50" y1="357" x2="922.50" y2="350" stroke-width="1.05" stroke="#2a2a2a"/>
<line x1="932.71" y1="357" x2="932.71" y2="350" stroke-width="1.05" stroke="#2a2a2a"/>
<line x1="941.71" y1="357" x2="941.71" y2="350" stroke-width="1.05" stroke="#2a2a2a"/>
<line x1="949.76" y1="357" x2="949.76" y2="343" stroke-width="1.05" stroke="#2a2a2a"/>
<line x1="1002.73" y1="357" x2="1002.73" y2="350" stroke-width="1.05" stroke="#2a2a2a"/>
<line x1="1033.71" y1="357" x2="1033.71" y2="350" stroke-width="1.05" stroke="#2a2a2a"/>
<line x1="1055.70" y1="357" x2="1055.70" y2="350" stroke-width="1.05" stroke="#2a2a2a"/>
</g>
<g opacity="0.999">
<g transform="translate(49.90 42.70) scale(1.0 1.04)"><text x="0.00" y="0" font-size="31.0">F</text></g>
<g transform="translate(69.60 27.50) scale(1.03 1.07)"><text x="0.00" y="0" font-size="20.8">cc</text></g>
<line x1="80.2" y1="9" x2="93.6" y2="9" stroke="#000" stroke-width="1.8"/>
<g transform="translate(80.70 53.80) scale(1.1 1.03)"><text x="0.00" y="0" font-size="20.4">2</text></g>
<g transform="translate(70.10 298.62) scale(1.0 0.99)"><text x="0.00" y="0" font-size="22.45">0.</text><path transform="translate(18.72 0)" d="M8.85 -0.00L5.70 -0.00L5.70 -10.42L1.68 -10.42L1.68 -12.46C4.27 -12.53 5.88 -13.51 6.38 -15.45L8.85 -15.45Z"/></g>
<g transform="translate(70.10 231.74) scale(1.0 0.99)"><text x="0.00" y="0" font-size="22.45">0.2</text></g>
<g transform="translate(70.10 164.86) scale(1.0 0.99)"><text x="0.00" y="0" font-size="22.45">0.3</text></g>
<g transform="translate(70.10 97.98) scale(1.0 0.99)"><text x="0.00" y="0" font-size="22.45">0.4</text></g>
<g transform="translate(119.85 390.60) scale(1.015 0.97)"><path transform="translate(0.00 0)" d="M9.06 -0.00L5.84 -0.00L5.84 -10.67L1.72 -10.67L1.72 -12.77C4.37 -12.83 6.03 -13.85 6.53 -15.82L9.06 -15.82Z"/><text x="12.79" y="0" font-size="23.0">0</text></g>
<g transform="translate(151.95 373.70) scale(1.17 1.0)"><text x="0.00" y="0" font-size="17.2">-3</text></g>
<g transform="translate(295.81 390.60) scale(1.015 0.97)"><path transform="translate(0.00 0)" d="M9.06 -0.00L5.84 -0.00L5.84 -10.67L1.72 -10.67L1.72 -12.77C4.37 -12.83 6.03 -13.85 6.53 -15.82L9.06 -15.82Z"/><text x="12.79" y="0" font-size="23.0">0</text></g>
<g transform="translate(327.91 373.70) scale(1.17 1.0)"><text x="0.00" y="0" font-size="17.2">-2</text></g>
<g transform="translate(435.85 390.60) scale(1.015 0.97)"><path transform="translate(0.00 0)" d="M9.06 -0.00L5.84 -0.00L5.84 -10.67L1.72 -10.67L1.72 -12.77C4.37 -12.83 6.03 -13.85 6.53 -15.82L9.06 -15.82Z"/><text x="12.79" y="0" font-size="23.0">0</text></g>
<g transform="translate(467.95 373.70) scale(1.17 1.0)"><text x="0.00" y="0" font-size="17.2">-3</text></g>
<g transform="translate(611.81 390.60) scale(1.015 0.97)"><path transform="translate(0.00 0)" d="M9.06 -0.00L5.84 -0.00L5.84 -10.67L1.72 -10.67L1.72 -12.77C4.37 -12.83 6.03 -13.85 6.53 -15.82L9.06 -15.82Z"/><text x="12.79" y="0" font-size="23.0">0</text></g>
<g transform="translate(643.91 373.70) scale(1.17 1.0)"><text x="0.00" y="0" font-size="17.2">-2</text></g>
<g transform="translate(751.85 390.60) scale(1.015 0.97)"><path transform="translate(0.00 0)" d="M9.06 -0.00L5.84 -0.00L5.84 -10.67L1.72 -10.67L1.72 -12.77C4.37 -12.83 6.03 -13.85 6.53 -15.82L9.06 -15.82Z"/><text x="12.79" y="0" font-size="23.0">0</text></g>
<g transform="translate(783.95 373.70) scale(1.17 1.0)"><text x="0.00" y="0" font-size="17.2">-3</text></g>
<g transform="translate(927.81 390.60) scale(1.015 0.97)"><path transform="translate(0.00 0)" d="M9.06 -0.00L5.84 -0.00L5.84 -10.67L1.72 -10.67L1.72 -12.77C4.37 -12.83 6.03 -13.85 6.53 -15.82L9.06 -15.82Z"/><text x="12.79" y="0" font-size="23.0">0</text></g>
<g transform="translate(959.91 373.70) scale(1.17 1.0)"><text x="0.00" y="0" font-size="17.2">-2</text></g>
<g transform="translate(265.00 96.80) scale(1.0 1.0)"><text x="0.00" y="0" font-size="23.0">O</text><line x1="9.54" y1="-5.63" x2="16.21" y2="1.03" stroke="#000" stroke-width="3.11"/></g>
<g font-weight="normal" stroke="#000" stroke-width="0.45"><g transform="translate(283.49 84.60) scale(1.04 1.0)"><text x="0.00" y="0" font-size="15.2">2</text></g></g>
<g transform="translate(292.88 96.80) scale(1.0 1.0)"><rect x="0.99" y="-4.02" width="11.48" height="3.22"/><rect x="0.99" y="-9.66" width="11.48" height="3.22"/><path transform="translate(13.43 0)" d="M9.06 -0.00L5.84 -0.00L5.84 -10.67L1.72 -10.67L1.72 -12.77C4.37 -12.83 6.03 -13.85 6.53 -15.82L9.06 -15.82Z"/><text x="26.22" y="0" font-size="23.0">20 GeV</text></g>
<g font-weight="normal" stroke="#000" stroke-width="0.45"><g transform="translate(397.70 84.60) scale(1.04 1.0)"><text x="0.00" y="0" font-size="15.2">2</text></g></g>
<g transform="translate(156.80 323.70) scale(1.0 1.085)"><text x="0.00" y="0" font-size="33.5">H</text><path transform="translate(24.19 0)" d="M13.20 -0.00L8.51 -0.00L8.51 -15.54L2.51 -15.54L2.51 -18.59C6.37 -18.69 8.78 -20.17 9.51 -23.05L13.20 -23.05Z"/></g>
<g transform="translate(581.00 96.80) scale(1.0 1.0)"><text x="0.00" y="0" font-size="23.0">O</text><line x1="9.54" y1="-5.63" x2="16.21" y2="1.03" stroke="#000" stroke-width="3.11"/></g>
<g font-weight="normal" stroke="#000" stroke-width="0.45"><g transform="translate(599.49 84.60) scale(1.04 1.0)"><text x="0.00" y="0" font-size="15.2">2</text></g></g>
<g transform="translate(608.88 96.80) scale(1.0 1.0)"><rect x="0.99" y="-4.02" width="11.48" height="3.22"/><rect x="0.99" y="-9.66" width="11.48" height="3.22"/><text x="13.43" y="0" font-size="23.0">200 GeV</text></g>
<g font-weight="normal" stroke="#000" stroke-width="0.45"><g transform="translate(713.70 84.60) scale(1.04 1.0)"><text x="0.00" y="0" font-size="15.2">2</text></g></g>
<g transform="translate(472.80 323.70) scale(1.0 1.085)"><text x="0.00" y="0" font-size="33.5">H</text><path transform="translate(24.19 0)" d="M13.20 -0.00L8.51 -0.00L8.51 -15.54L2.51 -15.54L2.51 -18.59C6.37 -18.69 8.78 -20.17 9.51 -23.05L13.20 -23.05Z"/></g>
<g transform="translate(897.00 96.80) scale(1.0 1.0)"><text x="0.00" y="0" font-size="23.0">O</text><line x1="9.54" y1="-5.63" x2="16.21" y2="1.03" stroke="#000" stroke-width="3.11"/></g>
<g font-weight="normal" stroke="#000" stroke-width="0.45"><g transform="translate(915.49 84.60) scale(1.04 1.0)"><text x="0.00" y="0" font-size="15.2">2</text></g></g>
<g transform="translate(924.88 96.80) scale(1.0 1.0)"><rect x="0.99" y="-4.02" width="11.48" height="3.22"/><rect x="0.99" y="-9.66" width="11.48" height="3.22"/><text x="13.43" y="0" font-size="23.0">400 GeV</text></g>
<g font-weight="normal" stroke="#000" stroke-width="0.45"><g transform="translate(1029.70 84.60) scale(1.04 1.0)"><text x="0.00" y="0" font-size="15.2">2</text></g></g>
<g transform="translate(788.80 323.70) scale(1.0 1.085)"><text x="0.00" y="0" font-size="33.5">H</text><path transform="translate(24.19 0)" d="M13.20 -0.00L8.51 -0.00L8.51 -15.54L2.51 -15.54L2.51 -18.59C6.37 -18.69 8.78 -20.17 9.51 -23.05L13.20 -23.05Z"/></g>
<g transform="translate(1056.60 418.90) scale(1.0 1.09)"><text x="0.00" y="0" font-size="29.5">x</text></g>
<g transform="translate(1177.30 89.90) scale(1.09 1.0)"><text x="0.00" y="0" font-size="47.0">b</text></g>
<g transform="translate(1208.00 89.40) scale(1.0 1.0)"><text x="0.00" y="0" font-size="46.1">)</text></g>
<circle cx="1126" cy="157" r="7.2"/>
<g fill="none">
<line x1="1100" y1="197.0" x2="1156.5" y2="197.0" stroke="#ff00ff" stroke-width="3.8"/>
<line x1="1100" y1="237.1" x2="1157" y2="237.1" stroke="#0000ff" stroke-width="2.2" stroke-dasharray="3.4 2.6"/>
<line x1="1100" y1="277.2" x2="1156.5" y2="277.2" stroke="#0000ff" stroke-width="2.2"/>
<line x1="1101" y1="317.4" x2="1157" y2="317.4" stroke="#ff0000" stroke-width="2" stroke-dasharray="1.5 1.5"/>
<line x1="1102.5" y1="357.7" x2="1157" y2="357.7" stroke="#ff0000" stroke-width="2" stroke-dasharray="1.4 3.1 3.9 3.1"/>
</g>
<g transform="translate(1205.90 166.10) scale(1.0 1.05)"><text x="0.00" y="0" font-size="23.35">H</text><path transform="translate(16.86 0)" d="M9.20 -0.00L5.93 -0.00L5.93 -10.83L1.75 -10.83L1.75 -12.96C4.44 -13.03 6.12 -14.06 6.63 -16.06L9.20 -16.06Z"/><text x="29.85" y="0" font-size="23.35"> D*</text></g>
<g transform="translate(1184.20 205.90) scale(1.0 1.05)"><text x="0.00" y="0" font-size="23.35">MRST04FF3</text></g>
<g transform="translate(1184.20 245.70) scale(1.0 1.05)"><text x="0.00" y="0" font-size="23.35">MSTW08 NLO</text></g>
<g transform="translate(1184.20 285.60) scale(1.0 1.05)"><text x="0.00" y="0" font-size="23.35">MSTW08 NNLO</text></g>
<g transform="translate(1184.20 325.60) scale(1.0 1.05)"><text x="0.00" y="0" font-size="23.35">ABKM FFN3</text></g>
<g transform="translate(1184.20 365.60) scale(1.0 1.05)"><text x="0.00" y="0" font-size="23.35">ABKM GMVFNS</text></g>
</g>
</svg>
</body></html>
